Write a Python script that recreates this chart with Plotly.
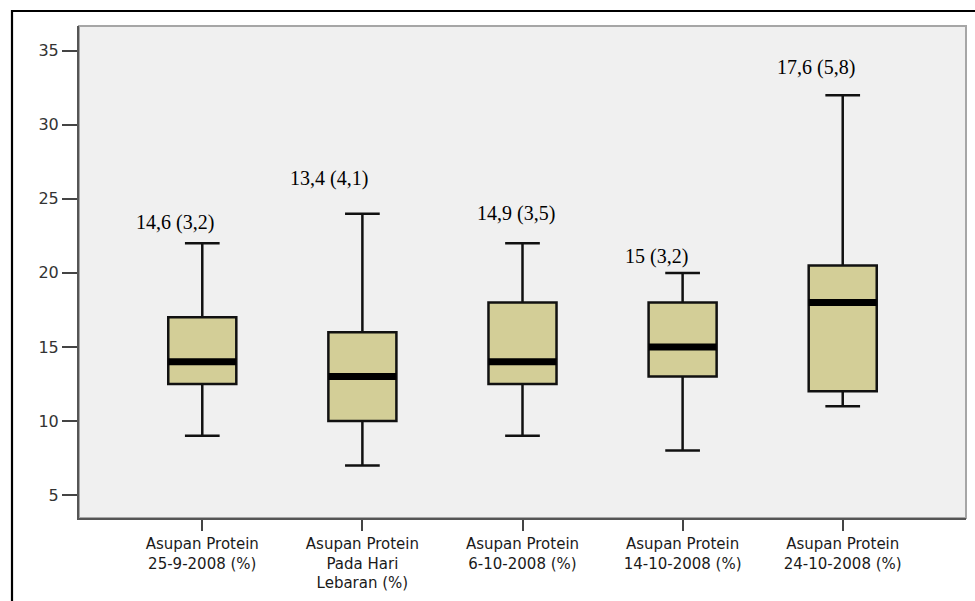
import plotly.graph_objects as go

# Five protein-intake measurements (percent of energy)
categories = [
    "Asupan Protein<br>25-9-2008 (%)",
    "Asupan Protein<br>Pada Hari<br>Lebaran (%)",
    "Asupan Protein<br>6-10-2008 (%)",
    "Asupan Protein<br>14-10-2008 (%)",
    "Asupan Protein<br>24-10-2008 (%)",
]
whisker_low = [9, 7, 9, 8, 11]
q1 = [12.5, 10, 12.5, 13, 12]
median = [14, 13, 14, 15, 18]
q3 = [17, 16, 18, 18, 20.5]
whisker_high = [22, 24, 22, 20, 32]

# mean (SD) for each measurement
means = ["14,6", "13,4", "14,9", "15", "17,6"]
sds = ["3,2", "4,1", "3,5", "3,2", "5,8"]

y_ticks = [5, 10, 15, 20, 25, 30, 35]

# label placement (x offset from category, y in data units)
label_dx = [-0.17, -0.21, -0.04, -0.16, -0.17]
label_y = [23.4, 26.4, 24.0, 21.1, 33.9]

BOX_W = 0.425
FILL = "#d3ce97"

xs = list(range(len(categories)))

fig = go.Figure()

fig.add_trace(go.Box(
    x=xs,
    q1=q1,
    median=median,
    q3=q3,
    lowerfence=whisker_low,
    upperfence=whisker_high,
    width=BOX_W,
    whiskerwidth=0.51,
    fillcolor=FILL,
    line=dict(color="#111111", width=2.5),
    boxpoints=False,
    showlegend=False,
    hoverinfo="skip",
))

# thick median bars
mx, my = [], []
for i, m in zip(xs, median):
    mx += [i - BOX_W / 2, i + BOX_W / 2, None]
    my += [m, m, None]
fig.add_trace(go.Scatter(
    x=mx, y=my, mode="lines",
    line=dict(color="#000000", width=7),
    showlegend=False, hoverinfo="skip",
))

annotations = []
for i, (m, s) in enumerate(zip(means, sds)):
    annotations.append(dict(
        x=i + label_dx[i], y=label_y[i], xref="x", yref="y",
        text=f"{m} ({s})", showarrow=False,
        xanchor="center", yanchor="middle",
        font=dict(family="Liberation Serif", size=20, color="#000000"),
    ))

PLOT_TOP, PLOT_BOTTOM = 26, 518
plot_h = PLOT_BOTTOM - PLOT_TOP
plot_w = 966 - 79
shapes = [
    # light frame round the plotting area
    dict(type="rect", xref="paper", yref="paper", x0=0, y0=0, x1=1, y1=1,
         line=dict(color="#a6a6a6", width=2), layer="below"),
    # outer frame of the figure
    dict(type="rect", xref="paper", yref="paper",
         x0=(12 - 79) / plot_w, x1=(990 - 79) / plot_w,
         y0=(PLOT_BOTTOM - 620) / plot_h, y1=1 + (PLOT_TOP - 11) / plot_h,
         line=dict(color="#000000", width=2.2), layer="above"),
]

fig.update_layout(
    width=975, height=601,
    margin=dict(l=79, r=9, t=26, b=83),
    paper_bgcolor="#ffffff",
    plot_bgcolor="#f0f0f0",
    showlegend=False,
    annotations=annotations,
    shapes=shapes,
    xaxis=dict(
        range=[-0.77, 4.77],
        tickvals=xs,
        ticktext=categories,
        tickfont=dict(family="DejaVu Sans", size=15, color="#1a1a1a"),
        ticks="outside", ticklen=11, tickwidth=2, tickcolor="#444444",
        showline=True, linecolor="#555555", linewidth=2,
        showgrid=False, zeroline=False,
    ),
    yaxis=dict(
        range=[3.45, 36.67],
        tickvals=y_ticks,
        ticks="outside", ticklen=15, tickwidth=2, tickcolor="#444444",
        tickfont=dict(family="DejaVu Sans", size=16, color="#333333"),
        showline=True, linecolor="#555555", linewidth=2,
        showgrid=False, zeroline=False,
    ),
)

fig.write_html("out.html")
